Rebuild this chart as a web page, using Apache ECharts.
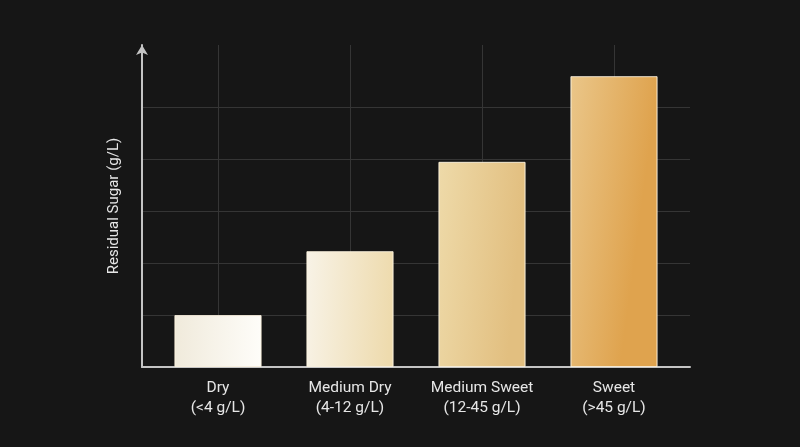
<!DOCTYPE html>
<html>
<head>
<meta charset="utf-8">
<script src="https://cdn.jsdelivr.net/npm/echarts@6/dist/echarts.min.js"></script>
<style>
  html, body { margin: 0; padding: 0; background: #161616; }
  #chart { width: 800px; height: 447px; }
</style>
</head>
<body>
<div id="chart"></div>
<script>
// data (y axis has no labels, one grid step = 10)
const categories = ['Dry\n(<4 g/L)', 'Medium Dry\n(4-12 g/L)', 'Medium Sweet\n(12-45 g/L)', 'Sweet\n(>45 g/L)'];
const sugarValues = [10, 22.3, 39.5, 56];
const yStep = 10;
const yMax = 62;

// left -> right gradient stops for each bar
const barColors = [
  ['#f0eadb', '#fefdf9'],
  ['#f8f3e7', '#eedbae'],
  ['#eedaa9', '#e2bf80'],
  ['#eac689', '#dfa34e']
];

const gridColor = '#353535';
const axisColor = '#c4c4c4';
const textColor = '#e6e6e6';

const chart = echarts.init(document.getElementById('chart'));

const getOption = () => {
  return {
    backgroundColor: '#161616',
    textStyle: { fontFamily: 'Roboto' },
    grid: [
      { left: 142, right: 110, top: 45, bottom: 80 },   // axis lines + horizontal grid
      { left: 152, right: 120, top: 45, bottom: 80 }    // bars + category labels
    ],
    xAxis: [
      {
        gridIndex: 0, type: 'value', min: 0, max: 1,
        axisLine: { show: true, lineStyle: { color: axisColor, width: 2 } },
        axisTick: { show: false }, axisLabel: { show: false }, splitLine: { show: false }
      },
      {
        gridIndex: 1, type: 'category', data: categories,
        axisLine: { show: false }, axisTick: { show: false },
        axisLabel: { interval: 0, color: textColor, fontSize: 15.5, lineHeight: 20, margin: 11 },
        splitLine: { show: true, interval: 0, alignWithLabel: true, lineStyle: { color: gridColor, width: 1 } }
      }
    ],
    yAxis: [
      {
        gridIndex: 0, type: 'value', min: 0, max: yMax, interval: yStep,
        name: 'Residual Sugar (g/L)', nameLocation: 'middle', nameGap: 20,
        nameTextStyle: { color: textColor, fontSize: 15 },
        axisLine: {
          show: true, symbol: ['none', 'arrow'], symbolSize: [9, 10],
          lineStyle: { color: axisColor, width: 2 }
        },
        axisTick: { show: false }, axisLabel: { show: false },
        splitLine: {
          show: true,
          lineStyle: {
            width: 1,
            color: ['transparent', gridColor, gridColor, gridColor, gridColor, gridColor, 'transparent', 'transparent']
          }
        }
      },
      {
        gridIndex: 1, type: 'value', min: 0, max: yMax, interval: yStep, show: false
      }
    ],
    series: [
      {
        type: 'bar',
        xAxisIndex: 1, yAxisIndex: 1,
        barWidth: '66%',
        z: 3,
        data: sugarValues.map((v, i) => ({
          value: v,
          itemStyle: {
            color: new echarts.graphic.LinearGradient(0, 0, 1, 0.04, [
              { offset: 0, color: barColors[i][0] },
              { offset: 1, color: barColors[i][1] }
            ]),
            borderColor: 'rgba(255,245,225,0.55)',
            borderWidth: 1
          }
        }))
      }
    ]
  };
};

chart.setOption(getOption());
</script>
</body>
</html>
